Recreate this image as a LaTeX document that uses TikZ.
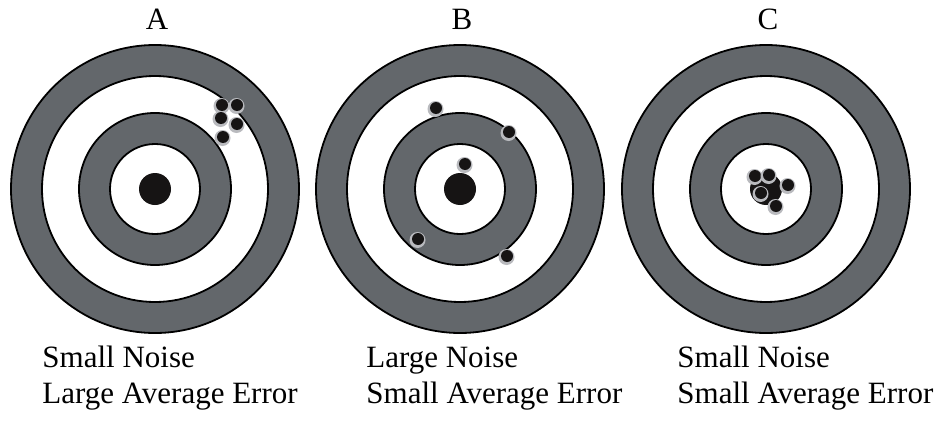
\documentclass[tikz,border=0pt]{standalone}
\usepackage{fontspec}
\setmainfont{Liberation Serif}
\usetikzlibrary{positioning}
\definecolor{cRing}{RGB}{99,103,107}
\definecolor{cHalo}{RGB}{185,186,190}
\definecolor{cHole}{RGB}{22,20,20}
\tikzset{
	ring/.style   ={draw=black, line width=0.9pt, fill=cRing},
	gap/.style    ={draw=black, line width=0.9pt, fill=white},
	bull/.style   ={fill=cHole},
	halo/.style   ={fill=cHalo},
	hole/.style   ={fill=cHole},
	title/.style  ={anchor=base, inner sep=0pt, font=\fontsize{15.5}{18}\selectfont},
	caption/.style={anchor=base west, align=left, inner sep=0pt, font=\fontsize{15.5}{18}\selectfont},
}
\begin{document}
\begin{tikzpicture}[x=0.5pt, y=-0.5pt]
	\useasboundingbox (0,0) rectangle (948,423);
	% targets
	\foreach \cx/\name in {155/A, 460/B, 766/C} {
		\draw[ring] (\cx,189) circle (144);
		\draw[gap]  (\cx,189) circle (113);
		\draw[ring] (\cx,189) circle (76);
		\draw[gap]  (\cx,189) circle (45);
		\fill[bull] (\cx,189) circle (16);
		\node[title] (title\name) at (\cx+2,29) {\name};
	}
	% shots
	\foreach \sx/\sy in {222/105, 237/105, 221/118, 237/124, 223/137,
	                     436/108, 509/132, 465/164, 418/239, 507/256,
	                     755/176, 769/175, 788/185, 761/193, 776/206} {
		\fill[halo] (\sx-0.5,\sy+1) circle (8);
		\fill[hole] (\sx,\sy) circle (6);
	}
	% captions
	\node[caption] (capA) at (42,403)  {Small Noise\\Large Average Error};
	\node[caption] (capB) at (366,403) {Large Noise\\Small Average Error};
	\node[caption] (capC) at (677,403) {Small Noise\\Small Average Error};
\end{tikzpicture}
\end{document}
